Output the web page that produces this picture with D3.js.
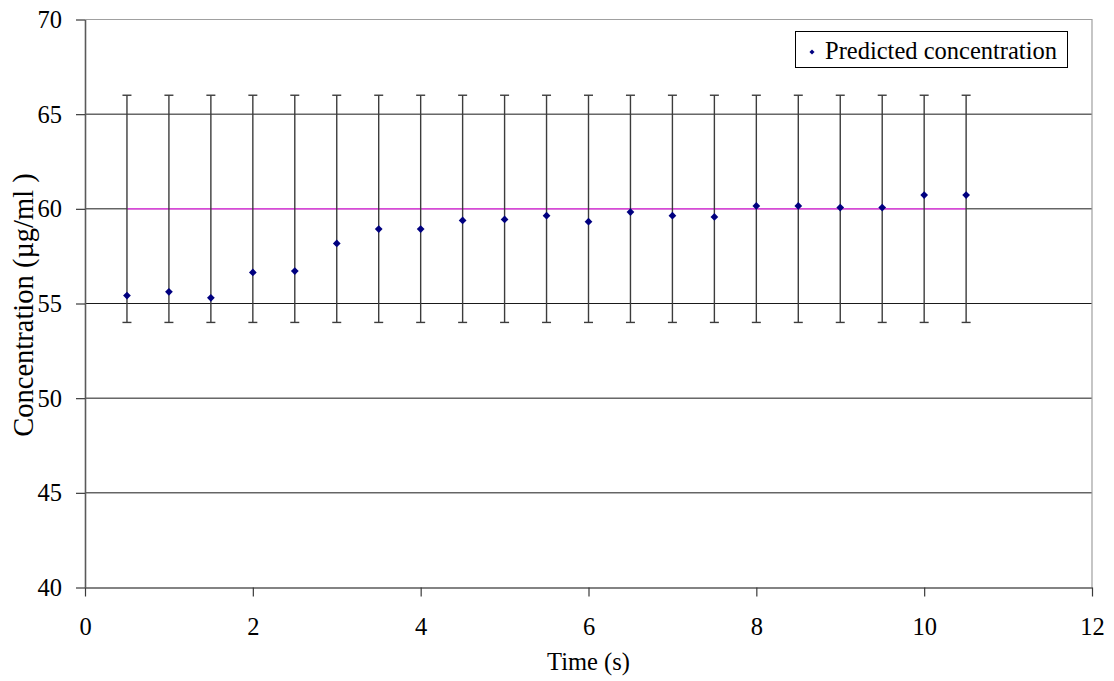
<!DOCTYPE html>
<html>
<head>
<meta charset="utf-8">
<script src="https://cdn.jsdelivr.net/npm/d3@7"></script>
<style>
  html, body { margin: 0; padding: 0; background: #fff; }
  svg { display: block; }
</style>
</head>
<body>
<svg id="chart" width="1114" height="681"></svg>
<script>
// Sampling times (s)
const times = [0.5, 1, 1.5, 2, 2.5, 3, 3.5, 4, 4.5, 5, 5.5, 6, 6.5, 7, 7.5, 8, 8.5, 9, 9.5, 10, 10.5];
// Predicted concentration (µg/ml) at each time
const predicted = [55.42, 55.62, 55.30, 56.64, 56.71, 58.17, 58.93, 58.93, 59.39, 59.44, 59.64,
                   59.32, 59.83, 59.64, 59.57, 60.15, 60.15, 60.07, 60.07, 60.73, 60.73];
// Acceptance band around the target concentration
const lowerLimit = [54, 54, 54, 54, 54, 54, 54, 54, 54, 54, 54, 54, 54, 54, 54, 54, 54, 54, 54, 54, 54];
const upperLimit = [66, 66, 66, 66, 66, 66, 66, 66, 66, 66, 66, 66, 66, 66, 66, 66, 66, 66, 66, 66, 66];
const target = 60;
// Axis ticks
const xTicks = [0, 2, 4, 6, 8, 10, 12];
const yTicks = [40, 45, 50, 55, 60, 65, 70];
const seriesName = "Predicted concentration";

const FONT = "Liberation Serif";
const svg = d3.select("#chart").style("font-family", FONT);
const plot = { left: 85, right: 1092, top: 19.5, bottom: 587.5 };

const x = d3.scaleLinear().domain([0, 12]).range([plot.left, plot.right]);
const y = d3.scaleLinear().domain([40, 70]).range([plot.bottom, plot.top]);

// Horizontal gridlines
svg.append("g")
  .selectAll("line")
  .data(yTicks.filter(v => v > 40 && v < 70))
  .join("line")
  .attr("x1", plot.left).attr("x2", plot.right)
  .attr("y1", d => y(d)).attr("y2", d => y(d))
  .attr("stroke", "#1a1a1a").attr("stroke-width", 1);

// Plot frame (top and right)
svg.append("path")
  .attr("d", `M${plot.left},${plot.top}H${plot.right}V${plot.bottom}`)
  .attr("fill", "none").attr("stroke", "#a0a0a0").attr("stroke-width", 1.2);

// Target concentration line
svg.append("line")
  .attr("x1", x(times[0])).attr("x2", x(times[times.length - 1]))
  .attr("y1", y(target)).attr("y2", y(target))
  .attr("stroke", "#ff40ff").attr("stroke-width", 1.3);

// Error bars
const bars = svg.append("g").attr("stroke", "#3c3c3c").attr("stroke-width", 1.4);
times.forEach((t, i) => {
  bars.append("line")
    .attr("x1", x(t)).attr("x2", x(t))
    .attr("y1", y(lowerLimit[i])).attr("y2", y(upperLimit[i]));
  [lowerLimit[i], upperLimit[i]].forEach(v => {
    bars.append("line")
      .attr("x1", x(t) - 4.5).attr("x2", x(t) + 4.5)
      .attr("y1", y(v)).attr("y2", y(v));
  });
});

// Axes: lines and ticks from d3.axis, labels re-set in the serif face
const xAxis = svg.append("g")
  .attr("transform", `translate(0,${plot.bottom})`)
  .call(d3.axisBottom(x).tickValues(xTicks).tickSize(9).tickSizeOuter(0));
const yAxis = svg.append("g")
  .attr("transform", `translate(${plot.left},0)`)
  .call(d3.axisLeft(y).tickValues(yTicks).tickSize(9).tickSizeOuter(0));

[xAxis, yAxis].forEach(g => {
  g.attr("font-family", null).attr("font-size", null);
  g.select(".domain").attr("stroke", "#5a5a5a").attr("stroke-width", 1.6);
  g.selectAll(".tick line").attr("stroke", "#3a3a3a").attr("stroke-width", 1.2);
  g.selectAll(".tick text").remove();
});
xAxis.selectAll(".tick").append("text")
  .attr("y", 47.5).attr("text-anchor", "middle")
  .style("font-family", FONT).style("font-size", "24.5px").attr("fill", "#000")
  .text(d => d);
yAxis.selectAll(".tick").append("text")
  .attr("x", -23).attr("dy", "0.33em").attr("text-anchor", "end")
  .style("font-family", FONT).style("font-size", "24.5px").attr("fill", "#000")
  .text(d => d);

// Data points (diamonds)
const diamond = d3.symbol().type(d3.symbolSquare).size(30);
svg.append("g")
  .selectAll("path")
  .data(times.map((t, i) => [t, predicted[i]]))
  .join("path")
  .attr("transform", d => `translate(${x(d[0])},${y(d[1])}) rotate(45)`)
  .attr("d", diamond)
  .attr("fill", "#000080");

// Axis titles
svg.append("text")
  .attr("x", (plot.left + plot.right) / 2).attr("y", 670)
  .attr("text-anchor", "middle")
  .style("font-family", FONT).style("font-size", "24.5px")
  .text("Time (s)");
svg.append("text")
  .attr("transform", `translate(33,305) rotate(-90)`)
  .attr("text-anchor", "middle")
  .style("font-family", FONT).style("font-size", "28.5px")
  .text("Concentration (µg/ml )");

// Legend
const legend = svg.append("g");
legend.append("rect")
  .attr("x", 795.5).attr("y", 31.5).attr("width", 272).attr("height", 36)
  .attr("fill", "#fff").attr("stroke", "#000").attr("stroke-width", 1);
legend.append("path")
  .attr("transform", "translate(812,52) rotate(45)")
  .attr("d", d3.symbol().type(d3.symbolSquare).size(13))
  .attr("fill", "#000080");
legend.append("text")
  .attr("x", 825).attr("y", 59)
  .style("font-family", FONT).style("font-size", "24.5px")
  .text(seriesName);
</script>
</body>
</html>
